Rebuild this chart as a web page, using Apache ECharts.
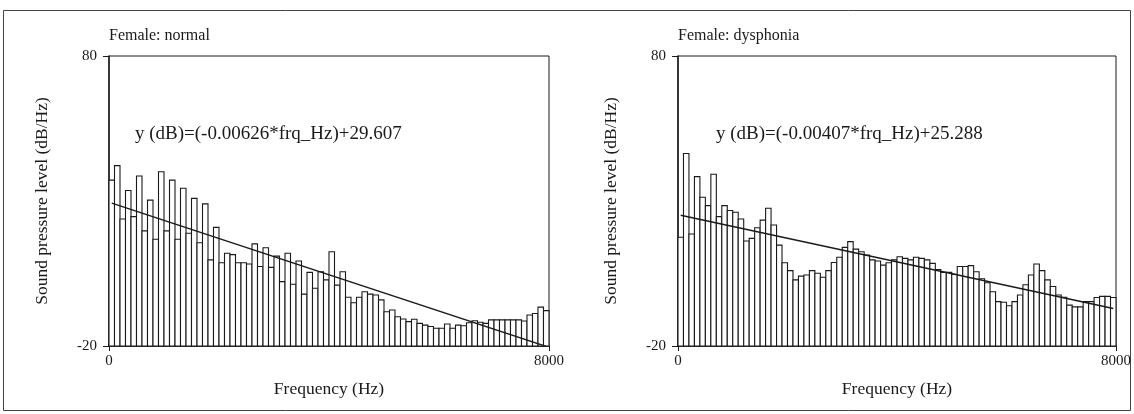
<!DOCTYPE html>
<html>
<head>
<meta charset="utf-8">
<script src="https://cdn.jsdelivr.net/npm/echarts@6/dist/echarts.min.js"></script>
<style>
  html, body { margin: 0; padding: 0; background: #fff; }
  #chart { width: 1134px; height: 414px; }
</style>
</head>
<body>
<div id="chart"></div>
<script>
// spectrum bins, 100 Hz wide, 0 - 8000 Hz
var binWidth = 100;
var binCenters = [];
for (var i = 0; i < 80; i++) binCenters.push(binWidth / 2 + i * binWidth);

// Female: normal (dB/Hz)
var normalDb = [
  37.2, 42.2, 23.8, 33.6, 24.6, 38.6, 19.7, 30.3, 16.8, 40.1,
  19.7, 37.2, 16.8, 34.4, 18.9, 30.9, 15.6, 29.0, 9.7, 20.9,
  8.7, 12.0, 11.5, 8.7, 8.7, 8.3, 15.2, 7.4, 13.9, 7.1,
  11.0, 2.2, 12.0, 1.3, 9.3, -2.1, 5.4, -0.1, 5.6, 2.8,
  12.5, 1.0, 5.6, -3.2, -5.1, -3.2, -1.3, -2.1, -2.4, -4.1,
  -8.2, -7.6, -9.9, -10.7, -11.6, -10.8, -12.2, -12.8, -13.3, -13.9,
  -13.9, -12.4, -13.9, -12.8, -13.0, -12.0, -11.3, -11.8, -12.2, -11.0,
  -11.0, -11.0, -11.0, -11.0, -11.0, -11.4, -9.3, -8.8, -6.6, -7.8
];

// Female: dysphonia (dB/Hz)
var dysphoniaDb = [
  17.5, 46.4, 18.6, 38.4, 31.3, 28.4, 39.2, 24.6, 28.4, 26.7,
  26.1, 23.8, 16.2, 17.1, 20.8, 23.4, 27.5, 21.7, 14.8, 8.7,
  6.0, 2.8, 4.1, 4.5, 6.0, 5.1, 3.7, 6.0, 8.8, 10.6,
  14.0, 16.0, 13.4, 12.5, 11.4, 9.7, 9.3, 7.9, 8.7, 9.7,
  10.8, 10.2, 9.7, 10.6, 10.2, 9.7, 8.5, 6.4, 5.4, 5.4,
  4.7, 7.4, 7.4, 7.7, 5.6, 3.2, 1.8, -1.3, -4.7, -4.9,
  -6.1, -4.7, -2.4, 1.1, 4.5, 8.3, 6.0, 2.8, 0.5, -2.4,
  -3.2, -5.9, -6.5, -6.5, -4.7, -4.7, -3.3, -2.9, -2.9, -3.3
];

// regression lines as printed on the chart: [slope, intercept]
var normalFit = [-0.00626, 29.607];
var dysphoniaFit = [-0.00407, 25.288];
var fitRange = [50, 7950];

var panelTitles = ['Female: normal', 'Female: dysphonia'];
var yTicks = [-20, 80];
var xTicks = [0, 8000];

var serif = '"Liberation Serif", "DejaVu Serif", serif';
var ink = '#1a1a1a';

function fitLine(fit) {
  return fitRange.map(function (f) { return [f, fit[0] * f + fit[1]]; });
}
function eqText(fit) {
  return 'y (dB)=(' + fit[0].toFixed(5) + '*frq_Hz)+' + fit[1].toFixed(3);
}

var grids = [
  { left: 109, top: 56, width: 440, height: 290 },
  { left: 678, top: 56, width: 442, height: 290 }
];

function xAxisOf(idx) {
  return {
    type: 'value', gridIndex: idx,
    min: xTicks[0], max: xTicks[1], interval: xTicks[1] - xTicks[0],
    name: 'Frequency (Hz)', nameLocation: 'middle', nameGap: 34,
    nameTextStyle: { fontFamily: serif, fontSize: 17.5, color: ink },
    axisLine: { onZero: false, lineStyle: { color: ink, width: 1.5 } },
    axisTick: { show: true, length: 5, lineStyle: { color: ink } },
    axisLabel: { fontFamily: serif, fontSize: 15, color: ink, margin: 8,
      formatter: function (v) { return String(v); } },
    splitLine: { show: false }
  };
}
function yAxisOf(idx) {
  return {
    type: 'value', gridIndex: idx,
    min: yTicks[0], max: yTicks[1], interval: yTicks[1] - yTicks[0],
    name: 'Sound pressure level (dB/Hz)', nameLocation: 'middle', nameGap: 58,
    nameTextStyle: { fontFamily: serif, fontSize: 17.5, color: ink },
    axisLine: { show: true, onZero: false, lineStyle: { color: ink, width: 1.5 } },
    axisTick: { show: true, length: 6, lineStyle: { color: ink } },
    axisLabel: { fontFamily: serif, fontSize: 15, color: ink, margin: 12 },
    splitLine: { show: false }
  };
}
// histogram bars drawn from the axis floor (-20) up to each value
function barSeries(idx, values) {
  return {
    type: 'custom', xAxisIndex: idx, yAxisIndex: idx,
    data: binCenters.map(function (f, i) { return [f, values[i]]; }),
    renderItem: function (params, api) {
      var f = api.value(0);
      var p0 = api.coord([f - binWidth / 2, yTicks[0]]);
      var p1 = api.coord([f + binWidth / 2, api.value(1)]);
      return {
        type: 'rect',
        shape: { x: p0[0], y: p1[1], width: p1[0] - p0[0], height: p0[1] - p1[1] },
        style: { fill: '#fff', stroke: ink, lineWidth: 1.1 }
      };
    },
    encode: { x: 0, y: 1 },
    silent: true
  };
}
function lineSeries(idx, fit) {
  return {
    type: 'line', xAxisIndex: idx, yAxisIndex: idx,
    data: fitLine(fit), symbol: 'none', z: 5,
    lineStyle: { color: ink, width: 1.3 },
    silent: true
  };
}

var chart = echarts.init(document.getElementById('chart'));
chart.setOption({
  animation: false,
  backgroundColor: '#fff',
  title: [
    { text: panelTitles[0], left: 104, top: 23, textStyle: { fontFamily: serif, fontSize: 16, fontWeight: 'normal', color: ink } },
    { text: panelTitles[1], left: 673, top: 23, textStyle: { fontFamily: serif, fontSize: 16, fontWeight: 'normal', color: ink } }
  ],
  grid: grids.map(function (g) {
    return Object.assign({ show: true, borderColor: ink, borderWidth: 1, backgroundColor: 'transparent' }, g);
  }),
  xAxis: [xAxisOf(0), xAxisOf(1)],
  yAxis: [yAxisOf(0), yAxisOf(1)],
  series: [
    barSeries(0, normalDb), lineSeries(0, normalFit),
    barSeries(1, dysphoniaDb), lineSeries(1, dysphoniaFit)
  ],
  graphic: [
    { type: 'rect', shape: { x: 3.5, y: 10.5, width: 1127, height: 400 }, style: { fill: 'none', stroke: '#444', lineWidth: 1 }, silent: true },
    { type: 'text', left: 135, top: 125, style: { text: eqText(normalFit), font: '19px ' + serif, fill: ink } },
    { type: 'text', left: 716, top: 125, style: { text: eqText(dysphoniaFit), font: '19px ' + serif, fill: ink } }
  ]
});
</script>
</body>
</html>
